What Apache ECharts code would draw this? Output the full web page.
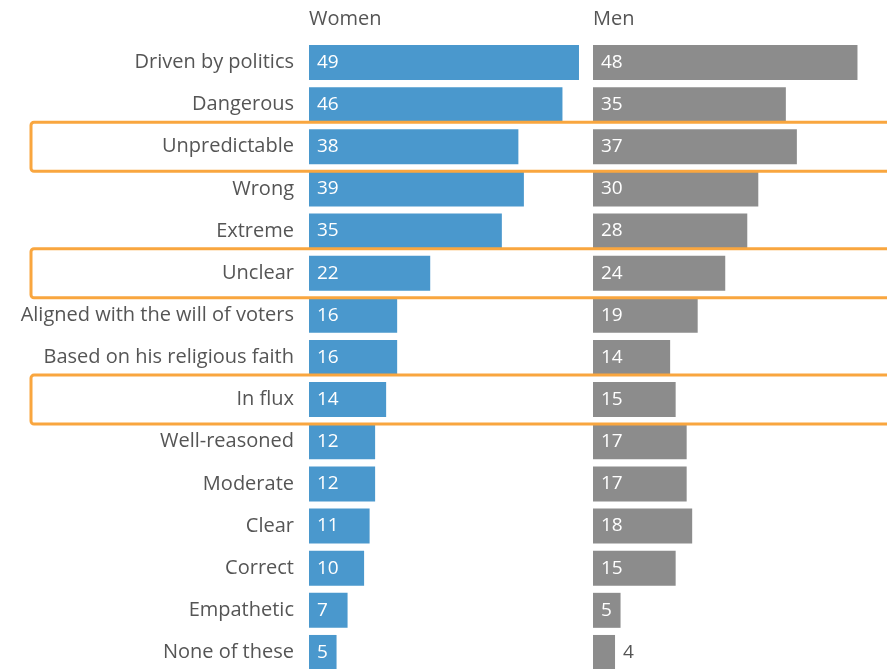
<!DOCTYPE html>
<html><head><meta charset="utf-8">
<script src="https://cdn.jsdelivr.net/npm/echarts@6/dist/echarts.min.js"></script>
<style>html,body{margin:0;padding:0;background:#fff}#c{width:887px;height:669px}</style>
</head><body><div id="c"></div>
<script>
const categories = ['Driven by politics','Dangerous','Unpredictable','Wrong','Extreme','Unclear','Aligned with the will of voters','Based on his religious faith','In flux','Well-reasoned','Moderate','Clear','Correct','Empathetic','None of these'];
const women = [49,46,38,39,35,22,16,16,14,12,12,11,10,7,5];
const men = [48,35,37,30,28,24,19,14,15,17,17,18,15,5,4];
const highlighted = ['Unpredictable','Unclear','In flux'];
const groupNames = ['Women','Men'];

const FONT = 'Open Sans';
const chart = echarts.init(document.getElementById('c'));
const rowH = 42.14;
const topY = 62.5 - rowH/2;
const scale = 5.51;
const axisMax = 50;

function seriesData(vals){
  return vals.map(v => v < 5 ? {value:v, label:{position:'right', color:'#555', offset:[3,0]}} : v);
}
const labelCommon = {show:true, position:'insideLeft', offset:[3,0], color:'#fff', fontFamily:FONT, fontSize:19, fontWeight:'normal'};

chart.setOption({
  animation:false,
  title: groupNames.map((n,i)=>({text:n, left: i===0?309:593, top:9, padding:0, textStyle:{fontFamily:FONT, fontSize:20, fontWeight:'normal', color:'#555'}})),
  grid:[
    {left:309, top:topY, width:axisMax*scale, height:rowH*categories.length, outerBoundsMode:'none'},
    {left:593, top:topY, width:axisMax*scale, height:rowH*categories.length, outerBoundsMode:'none'}
  ],
  xAxis:[
    {gridIndex:0, type:'value', min:0, max:axisMax, show:false},
    {gridIndex:1, type:'value', min:0, max:axisMax, show:false}
  ],
  yAxis:[
    {gridIndex:0, type:'category', data:categories, inverse:true, axisLine:{show:false}, axisTick:{show:false},
     axisLabel:{margin:15, color:'#555', fontFamily:FONT, fontSize:20}},
    {gridIndex:1, type:'category', data:categories, inverse:true, axisLine:{show:false}, axisTick:{show:false}, axisLabel:{show:false}}
  ],
  series:[
    {type:'bar', xAxisIndex:0, yAxisIndex:0, data:seriesData(women), barWidth:35, itemStyle:{color:'#4a98cd'}, label:labelCommon},
    {type:'bar', xAxisIndex:1, yAxisIndex:1, data:seriesData(men), barWidth:35, itemStyle:{color:'#8c8c8c'}, label:labelCommon}
  ]
});

const boxes = highlighted.map(c=>{
  const cy = chart.convertToPixel({yAxisIndex:0}, c);
  return {type:'rect', shape:{x:31, y:cy-24.5, width:870, height:49, r:3}, style:{fill:'none', stroke:'#f9a63f', lineWidth:3}, z:100};
});
chart.setOption({graphic:boxes});
</script></body></html>
